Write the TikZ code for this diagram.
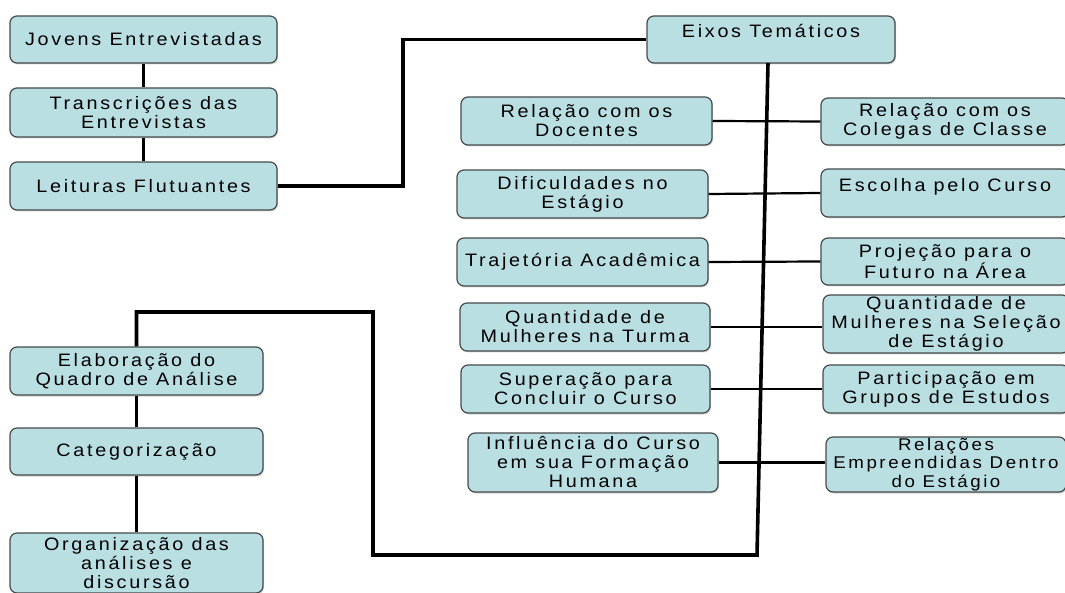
\documentclass[tikz,border=0pt]{standalone}
\usepackage{fontspec}
\setmainfont{Liberation Sans}[LetterSpace=15,FakeStretch=1.1]
\usetikzlibrary{shadows}
\definecolor{boxfill}{RGB}{186,223,227}
\definecolor{boxline}{RGB}{70,75,75}
\tikzset{
  x=1pt, y=-1pt,
  box/.style={draw=boxline, line width=1.2pt, fill=boxfill, rounded corners=7pt,
    align=center, inner sep=0pt, font=\fontsize{18}{19}\selectfont,
    drop shadow={opacity=0.35, shadow xshift=1pt, shadow yshift=-1.5pt}},
  upper/.style={text depth=17pt},
  narrow/.style={font=\fontsize{17}{18.5}\selectfont},
  thick line/.style={line width=3.6pt, black},
  thin line/.style={line width=2.2pt, black},
}
\newcommand{\bx}[7][]{\node[box, #1, minimum width=#4pt, minimum height=#5pt] (#6) at (#2,#3) {#7};}
\begin{document}
\begin{tikzpicture}
\useasboundingbox (0,0) rectangle (1065,593);
% left column
\bx{143.5}{39.5}{267}{47}{jov}{Jovens Entrevistadas}
\bx{143.5}{112.5}{267}{49}{tra}{Transcrições das\\Entrevistas}
\bx{143.5}{186}{267}{48}{lei}{Leituras Flutuantes}
\bx{136.5}{371}{253}{48}{ela}{Elaboração do\\Quadro de Análise}
\bx{136.5}{451.5}{253}{47}{cat}{Categorização}
\bx{136.5}{563}{253}{60}{org}{Organização das\\análises e\\discursão}
% top
\bx[upper]{771}{39.5}{248}{47}{eix}{Eixos Temáticos}
% middle column
\bx{586.5}{121}{251}{48}{rdo}{Relação com os\\Docentes}
\bx{582.5}{194}{251}{48}{dif}{Dificuldades no\\Estágio}
\bx{582.5}{262}{251}{48}{tra2}{Trajetória Acadêmica}
\bx{585}{327}{250}{48}{qtu}{Quantidade de\\Mulheres na Turma}
\bx{585.5}{389}{249}{48}{sup}{Superação para\\Concluir o Curso}
\bx{593}{462.5}{250}{59}{inf}{Influência do Curso\\em sua Formação\\Humana}
% right column
\bx{945}{121.5}{248}{47}{rco}{Relação com os\\Colegas de Classe}
\bx[upper]{945}{193}{248}{48}{esc}{Escolha pelo Curso}
\bx{945}{261.5}{248}{47}{pro}{Projeção para o\\Futuro na Área}
\bx{946}{324}{246}{58}{qse}{Quantidade de\\Mulheres na Seleção\\de Estágio}
\bx{946}{389}{246}{48}{par}{Participação em\\Grupos de Estudos}
\bx[narrow]{946}{464.5}{240}{55}{rel}{Relações\\Empreendidas Dentro\\do Estágio}
% connectors left
\draw[thick line] (jov.south) -- (tra.north);
\draw[thick line] (tra.south) -- (lei.north);
\coordinate (c1) at (403,39.5);
\draw[thick line] (lei.east) -| (c1) -- (eix.west);
% main vertical
\coordinate (vtop) at (768,63);
\coordinate (vbot) at (757,555);
\coordinate (c3) at (373,312);
\draw[thick line] (vtop) -- (vbot) -| (c3) -| (ela.north);
\draw[thick line] (ela.south) -- (cat.north);
\draw[thick line] (cat.south) -- (org.north);
% middle connectors
\draw[thin line] (rdo.east) -- (rco.west);
\draw[thin line] (dif.east) -- (esc.west);
\draw[thin line] (tra2.east) -- (pro.west);
\draw[thin line] (qtu.east) -- (qtu.east -| qse.west);
\draw[thin line] (sup.east) -- (par.west);
\draw[thin line] (inf.east) -- (inf.east -| rel.west);
\end{tikzpicture}
\end{document}
